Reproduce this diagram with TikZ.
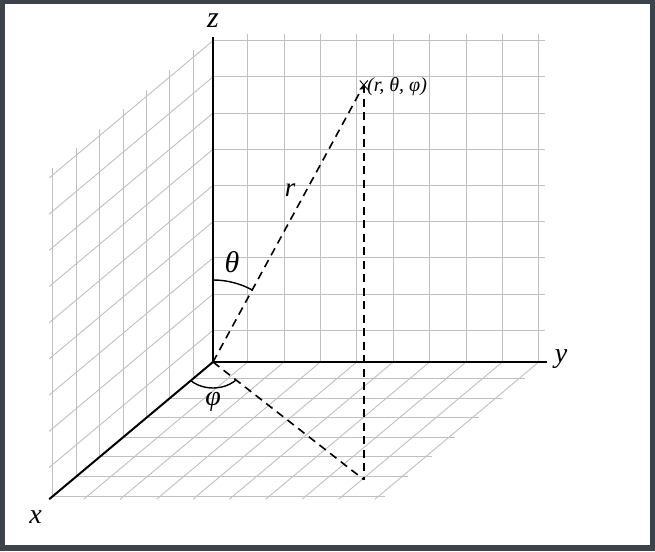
\documentclass[tikz,border=0pt]{standalone}
\usepackage{fontspec}
\setmainfont{Liberation Serif}
\definecolor{frame}{HTML}{3D434A}
\definecolor{gridc}{HTML}{C0C0C0}
\tikzset{
  gridline/.style={draw=gridc, line width=0.9pt},
  axis/.style={draw=black, line width=2pt},
  dashline/.style={draw=black, line width=1.6pt, dash pattern=on 8pt off 5.5pt},
  arcline/.style={draw=black, line width=1.4pt},
  lab/.style={font=\fontsize{28}{30}\selectfont\itshape, inner sep=0pt},
}
\begin{document}
\begin{tikzpicture}[x=1pt,y=1pt]
\useasboundingbox (0,0) rectangle (655,551);
\fill[frame] (0,0) rectangle (655,551);
\fill[white] (5,6) rectangle (650,547);
\begin{scope}[shift={(213pt,189pt)}, x={(-23.4pt,-19.6pt)}, y={(36.4pt,0pt)}, z={(0pt,36.2pt)}]
  % yz wall
  \foreach \k in {0,...,8} {
    \draw[gridline] (0,{0.95+\k},0) -- (0,{0.95+\k},9.06);
    \draw[gridline] (0,0,{0.876+\k}) -- (0,9.12,{0.876+\k});
  }
  % floor
  \foreach \k in {0,...,8} {
    \draw[gridline] (0,{0.95+\k},0) -- (7,{0.95+\k},0);
  }
  \foreach \k in {0,...,6} {
    \draw[gridline] ({0.84+\k},0,0) -- ({0.84+\k},9.12,0);
    \draw[gridline] ({0.84+\k},0,0) -- ({0.84+\k},0,9.06);
  }
  % xz wall
  \foreach \k in {0,...,8} {
    \draw[gridline] (0,0,{0.876+\k}) -- (7,0,{0.876+\k});
  }
  \coordinate (O) at (0,0,0);
  \coordinate (X) at (7,0,0);
  \coordinate (Y) at (0,9.18,0);
  \coordinate (Z) at (0,0,8.98);
  \coordinate (P) at (6,8,10.9);
  \coordinate (Q) at (6,8,0);
\end{scope}
% axes
\draw[axis] (O) -- (Z);
\draw[axis] (O) -- (Y);
\draw[axis] (O) -- (X);
% dashed lines
\draw[dashline] (O) -- (P);
\draw[dashline] (P) -- (Q);
\draw[dashline] (O) -- (Q);
% marker
\draw[line width=0.9pt] ([shift={(-4pt,-4.5pt)}]P) -- ([shift={(4pt,4.5pt)}]P)
                        ([shift={(-4pt,4.5pt)}]P) -- ([shift={(4pt,-4.5pt)}]P);
% theta arc
\draw[arcline] ([shift={(0pt,82pt)}]O) arc[start angle=90, end angle=61.4, radius=82pt];
% phi arc
\draw[arcline] ([shift={(225.9:32pt and 26pt)}]O) arc[start angle=225.9, end angle=316.2, x radius=32pt, y radius=26pt];
% labels
\node[lab, font=\fontsize{30}{32}\selectfont\itshape] (lz) at (213,530) {z};
\node[lab] (ly) at (561,192) {y};
\node[lab] (lx) at (35.5,34) {x};
\node[lab, font=\fontsize{27}{29}\selectfont\itshape] (lr) at (290,361) {r};
\node[lab, font=\fontsize{30}{32}\selectfont\itshape] (lt) at (232,289) {θ};
\node[lab, font=\fontsize{28}{30}\selectfont\itshape] (lp) at (213,149) {φ};
\node[lab, font=\fontsize{20}{22}\selectfont\itshape, anchor=west] (lP) at (367,464) {(r, θ, φ)};
\end{tikzpicture}
\end{document}
